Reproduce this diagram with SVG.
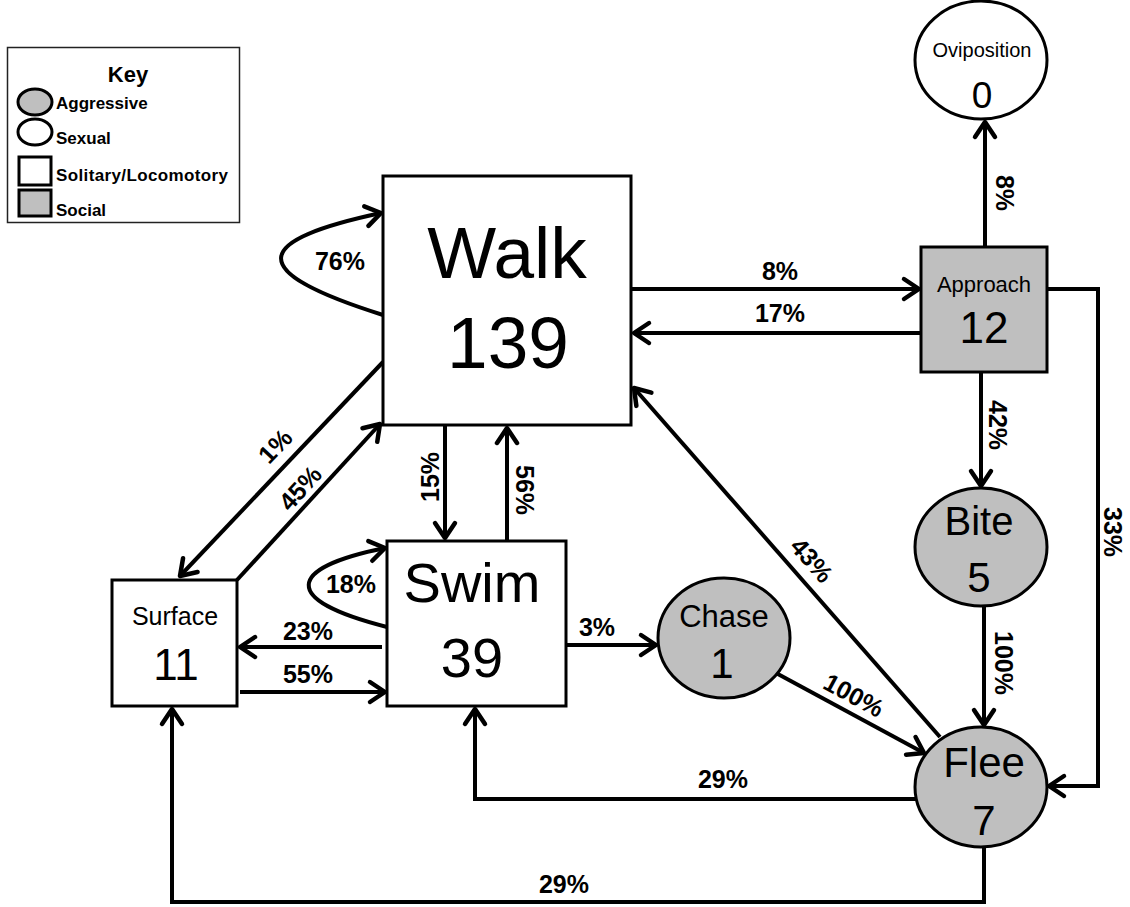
<svg xmlns="http://www.w3.org/2000/svg" width="1130" height="907" viewBox="0 0 1130 907">
<style>
.node{stroke:#000;stroke-width:3}
.soc{fill:#bfbfbf}
.sol{fill:#fff}
.nt{font-family:"Liberation Sans",Arial,sans-serif;text-anchor:middle;fill:#000}
.lbl{font-family:"Liberation Sans",Arial,sans-serif;font-weight:bold;font-size:25px;text-anchor:middle;fill:#000}
.edge{fill:none;stroke:#000;stroke-width:4;marker-end:url(#ah)}
.key{font-family:"Liberation Sans",Arial,sans-serif;font-weight:bold;font-size:17px;fill:#000}
</style>
<defs>
<marker id="ah" markerUnits="userSpaceOnUse" markerWidth="40" markerHeight="40" viewBox="-20 -20 40 40" refX="0" refY="0" orient="auto">
<path d="M-15,-10 L0,0 L-15,10" fill="none" stroke="#000" stroke-width="4.5" stroke-linecap="round" stroke-linejoin="round"/>
</marker>
</defs>
<rect width="1130" height="907" fill="#fff"/>

<g id="key">
<rect x="7.5" y="47.5" width="232" height="175" fill="#fff" stroke="#222" stroke-width="1.5"/>
<text x="128" y="82" class="key" text-anchor="middle" style="font-size:22px">Key</text>
<ellipse cx="35" cy="102" rx="17" ry="13" fill="#bfbfbf" stroke="#000" stroke-width="3"/>
<text x="56" y="109" class="key">Aggressive</text>
<ellipse cx="35" cy="132" rx="17" ry="13" fill="#fff" stroke="#000" stroke-width="3"/>
<text x="56" y="144" class="key">Sexual</text>
<rect x="19" y="157" width="32" height="28" fill="#fff" stroke="#000" stroke-width="3"/>
<text x="56" y="181" class="key" textLength="172">Solitary/Locomotory</text>
<rect x="19" y="190" width="32" height="26" fill="#bfbfbf" stroke="#000" stroke-width="3"/>
<text x="56" y="216" class="key">Social</text>
</g>

<g id="connectors">
<path class="edge" d="M631,289 H919"/>
<path class="edge" d="M921,333 H634"/>
<path class="edge" d="M985,247 V122"/>
<path class="edge" d="M981,372 V486"/>
<path class="edge" d="M1047,289 H1098 V786 H1049"/>
<path class="edge" d="M984,605 V725"/>
<path class="edge" d="M776,673 L924,753"/>
<path class="edge" d="M940,737 L634,388"/>
<path class="edge" d="M916,799 H475 V709"/>
<path class="edge" d="M984,846 V902 H172 V709"/>
<path class="edge" d="M566,645 H656"/>
<path class="edge" d="M382,647 H240"/>
<path class="edge" d="M240,692 H385"/>
<path class="edge" d="M445,425 V538"/>
<path class="edge" d="M507,541 V428"/>
<path class="edge" d="M383,362 L180,576"/>
<path class="edge" d="M237,580 L380,424"/>
<path class="edge" d="M383,315 C240,270 255,240 381,213"/>
<path class="edge" d="M387,627 C280,600 286,568 385,548"/>
</g>

<g id="labels">
<text class="lbl" x="780" y="280">8%</text>
<text class="lbl" x="780" y="322">17%</text>
<text class="lbl" transform="translate(1005,193) rotate(90)" y="9">8%</text>
<text class="lbl" transform="translate(998,425) rotate(90)" y="9">42%</text>
<text class="lbl" transform="translate(1113,532) rotate(90)" y="9">33%</text>
<text class="lbl" transform="translate(1004,663) rotate(90)" y="9">100%</text>
<text class="lbl" transform="translate(854,695) rotate(28.4)" y="9">100%</text>
<text class="lbl" transform="translate(812,560) rotate(48.7)" y="9">43%</text>
<text class="lbl" x="723" y="788">29%</text>
<text class="lbl" x="564" y="893">29%</text>
<text class="lbl" x="597" y="636">3%</text>
<text class="lbl" transform="translate(275,446) rotate(-46.5)" y="9">1%</text>
<text class="lbl" transform="translate(300,488) rotate(-48)" y="9">45%</text>
<text class="lbl" transform="translate(430,477) rotate(-90)" y="9">15%</text>
<text class="lbl" transform="translate(525,490) rotate(90)" y="9">56%</text>
<text class="lbl" x="340" y="270">76%</text>
<text class="lbl" x="351" y="593">18%</text>
<text class="lbl" x="308" y="640">23%</text>
<text class="lbl" x="308" y="683">55%</text>
</g>

<g id="walk">
<rect class="node sol" x="383" y="176" width="248" height="249"/>
<text class="nt" x="507" y="278" font-size="73">Walk</text>
<text class="nt" x="508" y="368" font-size="73">139</text>
</g>
<g id="approach">
<rect class="node soc" x="921" y="247" width="126" height="125"/>
<text class="nt" x="984" y="292" font-size="22">Approach</text>
<text class="nt" x="984" y="343" font-size="44">12</text>
</g>
<g id="oviposition">
<ellipse class="node sol" cx="981" cy="60" rx="66" ry="59" stroke-width="2.5"/>
<text class="nt" x="982" y="57" font-size="20">Oviposition</text>
<text class="nt" x="982" y="108" font-size="37">0</text>
</g>
<g id="bite">
<ellipse class="node soc" cx="981" cy="547" rx="66" ry="59" stroke-width="2.5"/>
<text class="nt" x="979" y="535" font-size="40">Bite</text>
<text class="nt" x="979" y="592" font-size="42">5</text>
</g>
<g id="chase">
<ellipse class="node soc" cx="724" cy="638" rx="66" ry="60" stroke-width="2.5"/>
<text class="nt" x="724" y="627" font-size="31">Chase</text>
<text class="nt" x="722" y="678" font-size="42">1</text>
</g>
<g id="flee">
<ellipse class="node soc" cx="981" cy="787" rx="66" ry="60" stroke-width="2.5"/>
<text class="nt" x="984" y="777" font-size="42">Flee</text>
<text class="nt" x="984" y="835" font-size="42">7</text>
</g>
<g id="surface">
<rect class="node sol" x="112" y="580" width="125" height="126"/>
<text class="nt" x="175" y="625" font-size="25">Surface</text>
<text class="nt" x="176" y="680" font-size="44">11</text>
</g>
<g id="swim">
<rect class="node sol" x="387" y="541" width="179" height="165"/>
<text class="nt" x="472" y="602" font-size="56">Swim</text>
<text class="nt" x="472" y="677" font-size="56">39</text>
</g>
</svg>
